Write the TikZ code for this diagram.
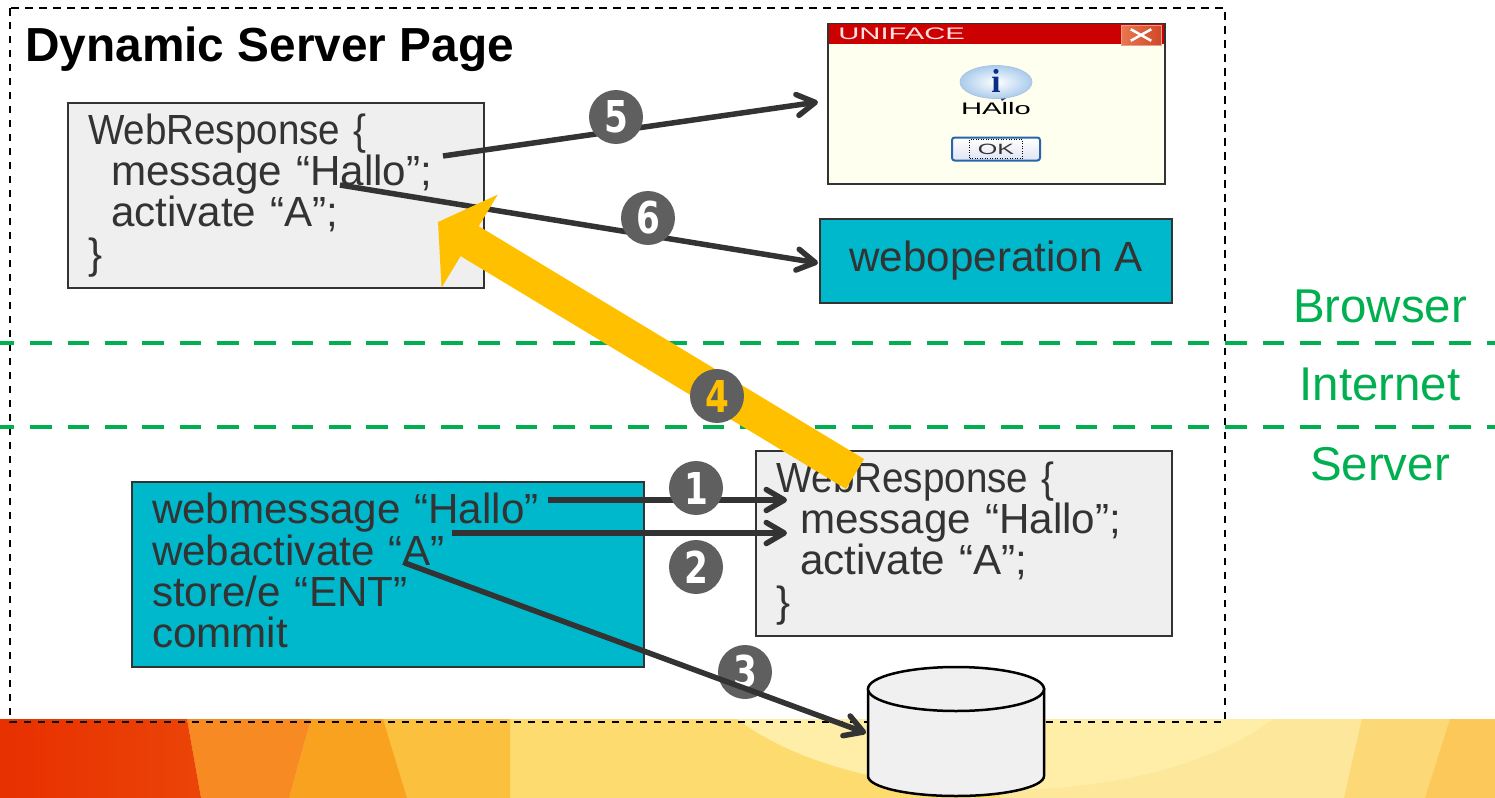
\documentclass[tikz,border=0pt]{standalone}
\usepackage{fontspec}
\setmainfont{Liberation Sans}
\newfontfamily\iconfont{Liberation Serif}
\newfontfamily\digitfont{DejaVu Sans}
\usetikzlibrary{arrows.meta,shapes.geometric,shapes.misc}
\definecolor{slate}{HTML}{333333}
\definecolor{panel}{HTML}{EFEFEF}
\definecolor{teal}{HTML}{00B8CC}
\definecolor{zone}{HTML}{00B050}
\definecolor{amber}{HTML}{FFC000}
\definecolor{disc}{HTML}{5F5F5F}
\newcommand{\stepnum}[1]{\scalebox{0.78}[1]{#1}}
\newcommand{\headline}{\scalebox{0.915}[1]{WebResponse \{}}
\tikzset{
    bodytext/.style={
    font=\fontsize{24}{23.4}\selectfont,text=slate
    },
    codebox/.style={
    rectangle,draw=slate,line width=0.04cm,bodytext,align=left,
    minimum width=8.32cm,minimum height=3.7cm,text width=7.52cm,inner xsep=0.4cm
    },
    zonelabel/.style={
    font=\fontsize{27}{27}\selectfont,text=zone
    },
    zoneline/.style={
    draw=zone,line width=0.08cm,dash pattern=on 0.43cm off 0.317cm,dash phase=0.14cm
    },
    bullet/.style={
    circle,fill=disc,inner sep=0pt,minimum size=1.08cm,text=white,
    font=\digitfont\fontsize{25}{25}\selectfont\bfseries
    },
    connection/.style={
    draw=slate,line width=0.11cm,-{Straight Barb[length=0.36cm,width=0.42cm,round]}
    },
    wintext/.style={
    font=\fontsize{9.5}{9.5}\selectfont,inner sep=0pt
    },
    storeline/.style={
    draw=black,line width=0.05cm,fill={rgb,255:red,240;green,240;blue,240}
    },
}
\begin{document}
\begin{tikzpicture}[x=0.02cm,y=-0.02cm]
   \useasboundingbox (0,0) rectangle (1495,798);

   \begin{scope}
   \clip (0,719) rectangle (1495,798);
   \fill[color={rgb,255:red,253;green,219;blue,111}] (0,719) rectangle (1495,798);
   \fill[color={rgb,255:red,252;green,231;blue,155}] (1000,719) rectangle (1400,798);
   \fill[color={rgb,255:red,254;green,238;blue,168}] (1005,640) ellipse (315 and 150);
   \fill[color={rgb,255:red,253;green,216;blue,119}] (1362,719) -- (1450,719) -- (1425,798) -- (1344,798) -- cycle;
   \fill[color={rgb,255:red,252;green,200;blue,90}] (1450,719) -- (1495,719) -- (1495,798) -- (1425,798) -- cycle;
   \fill[color={rgb,255:red,252;green,192;blue,63}] (383,719) -- (510,719) -- (510,798) -- (407,798) -- cycle;
   \fill[color={rgb,255:red,249;green,162;blue,31}] (311,719) -- (383,719) -- (407,798) -- (289,798) -- cycle;
   \fill[color={rgb,255:red,247;green,138;blue,34}] (187,719) -- (311,719) -- (289,798) -- (201,798) -- cycle;
   \shade[left color={rgb,255:red,232;green,48;blue,0},right color={rgb,255:red,235;green,68;blue,8}] (0,719) -- (187,719) -- (201,798) -- (0,798) -- cycle;
   \end{scope}

   \draw[black,line width=0.035cm,dash pattern=on 0.15cm off 0.13cm] (10,8) rectangle (1225,722);

   \node[font=\fontsize{27.2}{27.2}\selectfont\bfseries,anchor=base west,inner sep=0pt] (title) at (25,61) {Dynamic Server Page};

   \draw[zoneline] (0,343) -- (1495,343);
   \draw[zoneline] (0,427) -- (1495,427);
   \node[zonelabel] (browser)  at (1380,306) {Browser};
   \node[zonelabel] (internet) at (1380,384) {Internet};
   \node[zonelabel] (server)   at (1380,464) {Server};

   \node[codebox,fill=panel] (resptop) at (276,195.5) {\headline\\\hspace*{0.46cm}message “Hallo”;\\\hspace*{0.46cm}activate “A”;\\\}};
   \node[codebox,fill=panel] (respbot) at (964,543.5) {\headline\\\hspace*{0.48cm}message “Hallo”;\\\hspace*{0.48cm}activate “A”;\\\}};
   \node[codebox,fill=teal,minimum width=10.24cm,text width=9.44cm] (script) at (388,574.5) {webmessage “Hallo”\\webactivate “A”\\store/e “ENT”\\commit\vspace*{0.16cm}};
   \node[rectangle,draw=slate,line width=0.04cm,fill=teal,bodytext,minimum width=7.04cm,minimum height=1.68cm] (weboper) at (996,261) {weboperation A};

   \node[rectangle,draw=slate,line width=0.04cm,fill={rgb,255:red,255;green,255;blue,240},minimum width=6.74cm,minimum height=3.2cm] (dialog) at (996.5,104) {};
   \node[rectangle,fill={rgb,255:red,204;green,0;blue,0},minimum width=6.7cm,minimum height=0.4cm,inner sep=0pt] (titlebar) at (996.5,34) {};
   \node[wintext,text={rgb,255:red,255;green,225;blue,225},anchor=west] (dlgname) at (838,34) {\scalebox{1.75}[1]{UNIFACE}};
   \node[rectangle,left color={rgb,255:red,232;green,120;blue,80},right color={rgb,255:red,208;green,72;blue,40},draw={rgb,255:red,226;green,160;blue,140},minimum width=0.8cm,minimum height=0.4cm,inner sep=0pt] (closebtn) at (1141,35) {};
   \node[cross out,draw=white,line width=0.05cm,minimum width=0.36cm,minimum height=0.18cm,inner sep=0pt] (closex) at (closebtn) {};
   \fill[color={rgb,255:red,30;green,60;blue,130}] (998,94) -- (1012,94) -- (1002,101) -- cycle;
   \node[ellipse,draw={rgb,255:red,170;green,195;blue,225},inner color=white,outer color={rgb,255:red,170;green,204;blue,236},minimum width=1.44cm,minimum height=0.66cm,inner sep=0pt] (bubble) at (996,82) {};
   \node[font=\iconfont\fontsize{19}{19}\selectfont\bfseries,text={rgb,255:red,10;green,45;blue,135},inner sep=0pt] (infoi) at (996,81) {i};
   \node[wintext,text=black] (hallo) at (996,109) {\scalebox{1.75}[1]{HAllo}};
   \node[rectangle,rounded corners=1.5pt,draw={rgb,255:red,40;green,100;blue,170},line width=0.04cm,top color=white,bottom color={rgb,255:red,222;green,228;blue,242},minimum width=1.76cm,minimum height=0.46cm,inner sep=0pt] (okbtn) at (996,149) {};
   \node[wintext,text=slate,draw=black,densely dotted,line width=0.015cm,minimum width=1.06cm,minimum height=0.38cm] (oklabel) at (okbtn) {\scalebox{1.68}[1]{\fontsize{8.5}{8.5}\selectfont OK}};

   \draw[storeline] (868,689) -- (868,776) arc[start angle=180,end angle=0,x radius=88,y radius=20] -- (1044,689) -- cycle;
   \draw[storeline] (956,689) ellipse (88 and 22);

   \coordinate (fivetail) at (443,156);
   \coordinate (fivehead) at (818,102);
   \coordinate (sixtail)  at (340,185);
   \coordinate (sixhead)  at (818,263);
   \coordinate (onetail)  at (548,500);
   \coordinate (onehead)  at (787,500);
   \coordinate (twotail)  at (452,533);
   \coordinate (twohead)  at (787,533);
   \coordinate (threetail) at (405,563);
   \coordinate (threehead) at (866,733);
   \coordinate (fourtail) at (855,474);
   \coordinate (fourhead) at (438,222);

   \draw[connection] (fivetail) -- (fivehead);
   \draw[connection] (sixtail)  -- (sixhead);
   \draw[connection] (onetail)  -- (onehead);
   \draw[connection] (twotail)  -- (twohead);

   \draw[amber,line width=0.7cm,-{Triangle[length=0.74cm,width=2.14cm]}] (fourtail) -- (fourhead);

   \node[bullet] (one)   at (696,488) {\stepnum{1}};
   \node[bullet] (two)   at (696,567) {\stepnum{2}};
   \node[bullet] (three) at (745,672) {\stepnum{3}};
   \node[bullet,text=amber] (four) at (717,396) {\stepnum{4}};
   \node[bullet] (five)  at (616,117) {\stepnum{5}};
   \node[bullet] (six)   at (648,218) {\stepnum{6}};

   \draw[connection] (threetail) -- (threehead);
\end{tikzpicture}
\end{document}
